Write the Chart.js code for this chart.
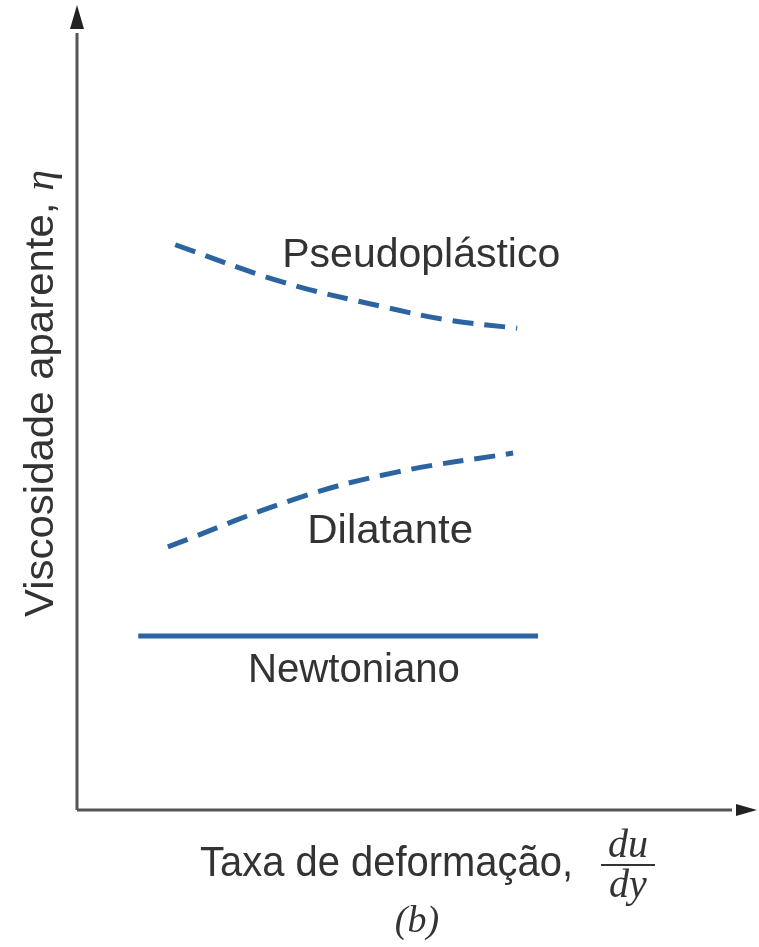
<!DOCTYPE html>
<html>
<head>
<meta charset="utf-8">
<script src="https://cdn.jsdelivr.net/npm/chart.js@4"></script>
<style>
html,body{margin:0;padding:0;background:#fff;}
#wrap{width:759px;height:947px;}
</style>
</head>
<body>
<div id="wrap"><canvas id="c" width="759" height="947"></canvas></div>
<script>
// Data (arbitrary units, qualitative sketch)
const pseudoX = [14.6, 30.6, 45.5, 55.4, 65.4];
const pseudoY = [71.1, 66.4, 63.3, 61.6, 60.6];
const dilatX = [13.5, 32.7, 47.5, 64.8];
const dilatY = [33.1, 39.2, 42.5, 44.9];
const newtX = [9.1, 68.5];
const newtY = [21.9, 21.9];

const seriesNames = ["Pseudoplástico", "Dilatante", "Newtoniano"];
const yTitle = "Viscosidade aparente, ";
const yTitleSym = "η";
const xTitle = "Taxa de deformação,";
const fracNum = "du";
const fracDen = "dy";
const caption = "(b)";

function pts(xs, ys){ return xs.map((x,i)=>({x:x, y:ys[i]})); }

const blue = "#2b64a0";
const textCol = "#333333";
const sans = "'Liberation Sans', Arial, sans-serif";
const serif = "'Liberation Serif', 'Times New Roman', serif";

const overlay = {
  id: 'overlay',
  afterDraw(chart){
    const ctx = chart.ctx;
    const xs = chart.scales.x, ys = chart.scales.y;
    const x0 = xs.getPixelForValue(0);
    const y0 = ys.getPixelForValue(0);
    const xEnd = xs.getPixelForValue(100);
    const yTop = ys.getPixelForValue(100);
    ctx.save();
    // axes
    ctx.strokeStyle = "#555";
    ctx.fillStyle = "#222";
    ctx.lineWidth = 3;
    ctx.beginPath();
    ctx.moveTo(x0, y0); ctx.lineTo(x0, yTop + 18);
    ctx.moveTo(x0, y0); ctx.lineTo(xEnd - 18, y0);
    ctx.stroke();
    // arrow heads
    ctx.beginPath();
    ctx.moveTo(x0, yTop - 10); ctx.lineTo(x0 - 7, yTop + 14); ctx.lineTo(x0 + 7, yTop + 14); ctx.closePath();
    ctx.fill();
    ctx.beginPath();
    ctx.moveTo(xEnd + 7, y0); ctx.lineTo(xEnd - 14, y0 - 6); ctx.lineTo(xEnd - 14, y0 + 6); ctx.closePath();
    ctx.fill();

    // series labels
    ctx.fillStyle = textCol;
    ctx.font = "41px " + sans;
    ctx.textBaseline = "alphabetic";
    ctx.textAlign = "left";
    const lab = (t, dx, dy, w) => {
      ctx.save();
      ctx.translate(xs.getPixelForValue(dx), ys.getPixelForValue(dy));
      const m = ctx.measureText(t).width;
      ctx.scale(w / m, 1);
      ctx.fillText(t, 0, 0);
      ctx.restore();
    };
    lab(seriesNames[0], 30.5, 68.3, 278);
    lab(seriesNames[1], 34.2, 33.6, 166);
    lab(seriesNames[2], 25.4, 16.1, 212);

    // y title (rotated)
    ctx.save();
    ctx.translate(53, 617);
    ctx.rotate(-Math.PI/2);
    ctx.font = "40px " + sans;
    const w1 = ctx.measureText(yTitle).width;
    ctx.font = "italic 40px " + serif;
    const w2 = ctx.measureText(yTitleSym).width;
    const sc = 447 / (w1 + w2);
    ctx.scale(sc, 1);
    ctx.font = "40px " + sans;
    ctx.fillText(yTitle, 0, 0);
    ctx.font = "italic 40px " + serif;
    ctx.fillText(yTitleSym, w1, 0);
    ctx.restore();

    // x title
    ctx.save();
    ctx.font = "43px " + sans;
    ctx.translate(200, 876);
    const wx = ctx.measureText(xTitle).width;
    ctx.scale(373 / wx, 1);
    ctx.fillText(xTitle, 0, 0);
    ctx.restore();

    // fraction
    ctx.font = "italic 40px " + serif;
    ctx.textAlign = "center";
    ctx.fillText(fracNum, 628, 857);
    ctx.fillText(fracDen, 628, 897);
    ctx.strokeStyle = "#333";
    ctx.lineWidth = 2;
    ctx.beginPath(); ctx.moveTo(601, 865); ctx.lineTo(655, 865); ctx.stroke();

    // caption
    ctx.font = "italic 38px " + serif;
    ctx.fillText(caption, 417, 932);
    ctx.restore();
  }
};

new Chart(document.getElementById('c'), {
  type: 'scatter',
  data: {
    datasets: [
      { label: seriesNames[0], data: pts(pseudoX, pseudoY), showLine: true, borderColor: blue, borderWidth: 5, borderDash: [21, 11], pointRadius: 0, tension: 0.4, fill: false },
      { label: seriesNames[1], data: pts(dilatX, dilatY), showLine: true, borderColor: blue, borderWidth: 5, borderDash: [21, 11], pointRadius: 0, tension: 0.4, fill: false },
      { label: seriesNames[2], data: pts(newtX, newtY), showLine: true, borderColor: blue, borderWidth: 5, pointRadius: 0, fill: false }
    ]
  },
  options: {
    responsive: false,
    animation: false,
    devicePixelRatio: 1,
    layout: { padding: { left: 77, right: 9, top: 15, bottom: 137 } },
    plugins: { legend: { display: false }, tooltip: { enabled: false } },
    scales: {
      x: { type: 'linear', min: 0, max: 100, display: false },
      y: { type: 'linear', min: 0, max: 100, display: false }
    }
  },
  plugins: [overlay]
});
</script>
</body>
</html>
